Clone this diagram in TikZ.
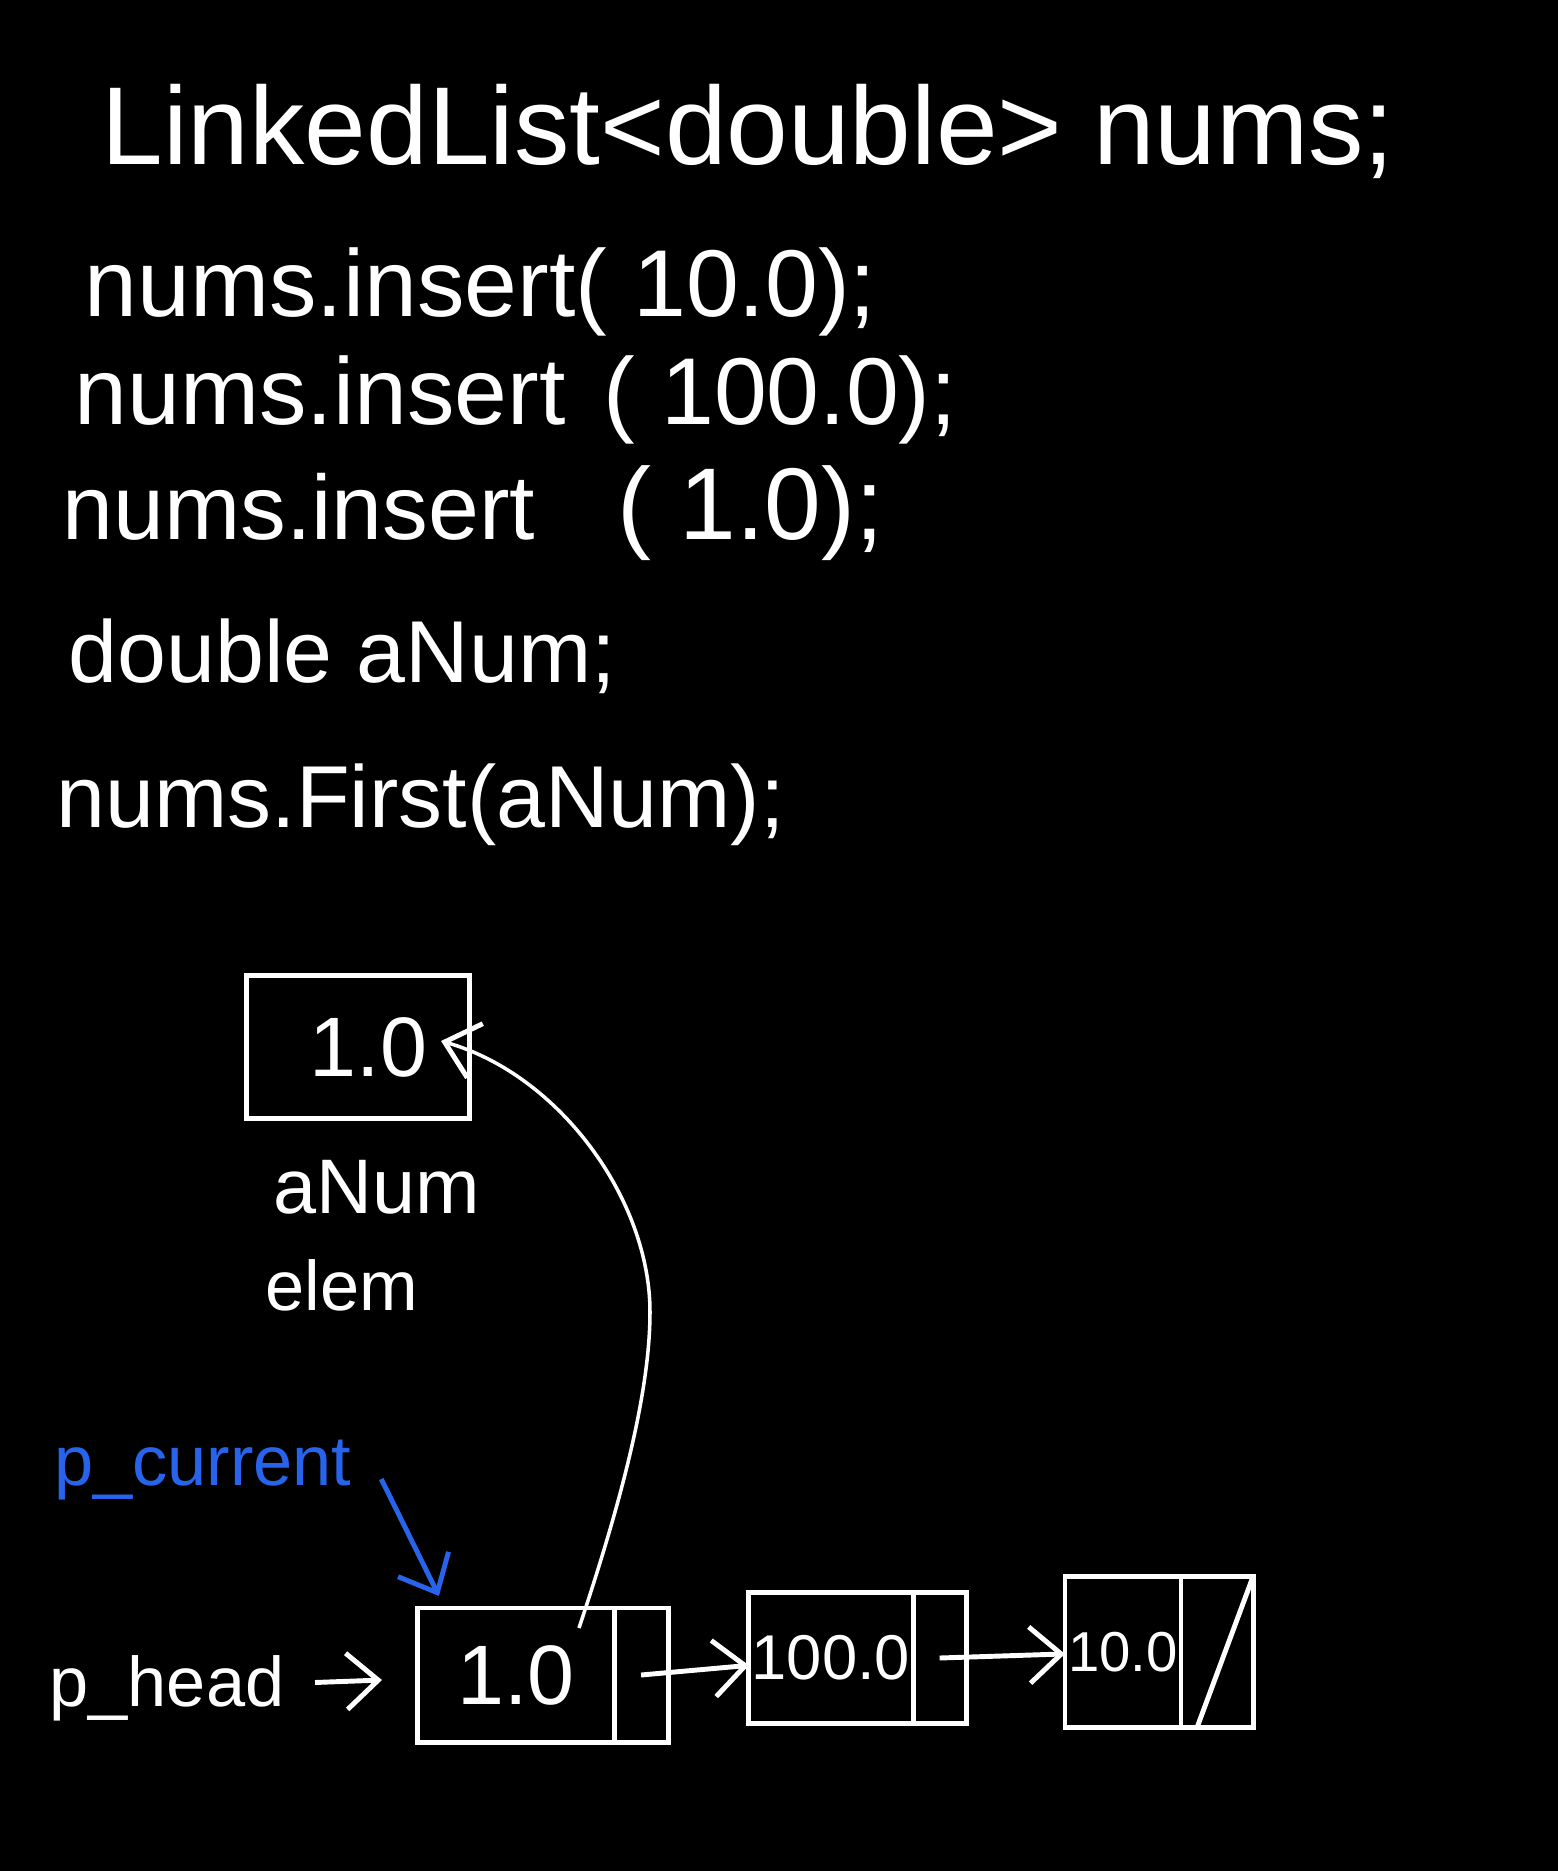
\documentclass[tikz,border=0pt]{standalone}
\usepackage{fontspec}
\setmainfont{Liberation Sans}
\usetikzlibrary{calc}
\usetikzlibrary{positioning}
\usetikzlibrary{arrows.meta}
\definecolor{penblue}{RGB}{40,100,235}
\tikzstyle{codeline} = [anchor=west, inner sep=0, text=white, font=\fontsize{27}{32}\selectfont]
\tikzstyle{cell} = [draw=white, line width=1.4pt, inner sep=0, outer sep=0, text=white]
\tikzstyle{tag} = [inner sep=0, text=white]
\tikzstyle{ptr} = [draw=white, line width=1.4pt, -{Straight Barb[length=9pt,width=16pt,line width=1.4pt]}]

\begin{document}
\begin{tikzpicture}[x=0.01cm, y=-0.01cm]
    \fill[black] (0,0) rectangle (1558,1871);
    \useasboundingbox (0,0) rectangle (1558,1871);

    % code
    \node[codeline, font=\fontsize{31.5}{38}\selectfont] (decl) at (101,131) {LinkedList<double> nums;};
    \node[codeline] (ins_a) at (84,292) {nums.insert( 10.0);};
    \node[codeline] (ins_b) at (74,400) {nums.insert\hspace{0.4em}( 100.0);};
    \node[codeline, font=\fontsize{26}{30}\selectfont] (ins_c) at (62,513) {nums.insert\hspace{0.9em}{\fontsize{29}{32}\selectfont( 1.0);}};
    \node[codeline, font=\fontsize{25}{30}\selectfont] (var) at (68,656) {double aNum;};
    \node[codeline, font=\fontsize{25}{30}\selectfont] (call) at (56,805) {nums.First(aNum);};

    % aNum
    \node[cell, minimum width=2.22cm, minimum height=1.43cm, font=\fontsize{24}{28}\selectfont] (elem_box) at (358,1047) {\hspace{6pt}1.0};
    \node[tag, font=\fontsize{22}{26}\selectfont] (anum_tag) at ($(elem_box)+(19,140)$) {aNum};
    \node[tag, font=\fontsize{20}{24}\selectfont] (elem_tag) at ($(anum_tag)+(-35,98)$) {elem};

    % list
    \node[cell, minimum width=1.96cm, minimum height=1.34cm, font=\fontsize{24}{28}\selectfont] (head_data) at (516,1675) {1.0};
    \node[cell, minimum width=0.54cm, minimum height=1.34cm, right=0pt of head_data] (head_next) {};
    \node[cell, minimum width=1.64cm, minimum height=1.31cm, font=\fontsize{18}{22}\selectfont] (mid_data) at ($(head_data)+(315,-17)$) {100.0};
    \node[cell, minimum width=0.53cm, minimum height=1.31cm, right=0pt of mid_data] (mid_next) {};
    \node[cell, minimum width=1.16cm, minimum height=1.51cm, font=\fontsize{16}{20}\selectfont] (tail_data) at ($(mid_data)+(292,-6)$) {10.0};
    \node[cell, minimum width=0.72cm, minimum height=1.51cm, right=0pt of tail_data] (tail_next) {};
    \draw[white, line width=1.4pt] (tail_next.north east) -- ($(tail_next.south west)+(16,0)$);

    \node[tag, font=\fontsize{20}{24}\selectfont] (phead) at (167,1688) {p\_head};
    \node[tag, text=penblue, font=\fontsize{20}{24}\selectfont] (pcur) at (203,1470) {p\_current};
    \coordinate (pcur_tail) at ($(pcur.east)+(29,9)$);

    \draw[ptr, shorten <=0.3cm, shorten >=0.36cm] (phead) -- (head_data);
    \draw[ptr, penblue] (pcur_tail) -- ($(head_data.north west)+(21,-12)$);
    \draw[ptr] (head_next.center) -- (mid_data);
    \draw[ptr] (mid_next.center) -- (tail_data);
    \draw[ptr, line width=1pt] ($(head_data.center)+(63,-47)$) .. controls (615,1520) and (650,1400) .. (650,1312)
        .. controls (650,1200) and (560,1075) .. ($(elem_box.east)+(-28,-6)$);
\end{tikzpicture}
\end{document}
